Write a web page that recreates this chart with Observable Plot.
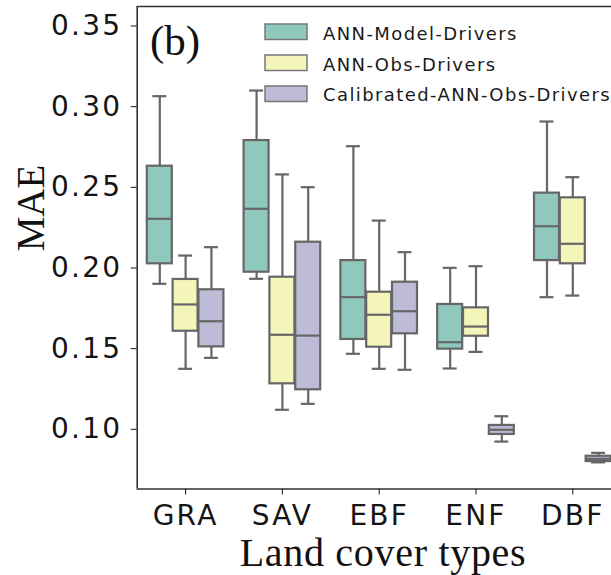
<!DOCTYPE html>
<html><head><meta charset="utf-8">
<script src="https://cdn.jsdelivr.net/npm/d3@7"></script>
<script src="https://cdn.jsdelivr.net/npm/@observablehq/plot@0.6"></script>
<style>
html,body{margin:0;padding:0;background:#fff;overflow:hidden;width:611px;height:575px;}
#wrap{position:relative;width:611px;height:575px;overflow:hidden;}
#chart svg{position:absolute;left:0;top:0;}
#chart svg text{letter-spacing:2.2px;}
#overlay{position:absolute;left:0;top:0;}
</style></head><body><div id="wrap"><div id="chart"></div><svg id="overlay" width="611" height="575"></svg></div>
<script>
const categories = ["GRA", "SAV", "EBF", "ENF", "DBF"];
const series = ["ANN-Model-Drivers", "ANN-Obs-Drivers", "Calibrated-ANN-Obs-Drivers"];
const colors = ["#8fc8bd", "#f3f5b9", "#bdbbd6"];
const yTicks = [0.10, 0.15, 0.20, 0.25, 0.30, 0.35];
// per series (rows), per category (columns)
const lowerWhisker = [
  [0.1902, 0.1933, 0.1468, 0.1377, 0.1819],
  [0.1375, 0.1121, 0.1375, 0.1480, 0.1829],
  [0.1443, 0.1158, 0.1369, 0.0924, 0.0795]
];
const q1 = [
  [0.2026, 0.1974, 0.1557, 0.1497, 0.2046],
  [0.1608, 0.1282, 0.1509, 0.1577, 0.2026],
  [0.1511, 0.1245, 0.1592, 0.0968, 0.0800]
];
const median = [
  [0.2305, 0.2367, 0.1819, 0.1540, 0.2259],
  [0.1774, 0.1586, 0.1710, 0.1637, 0.2150],
  [0.1670, 0.1581, 0.1732, 0.0997, 0.0817]
];
const q3 = [
  [0.2631, 0.2790, 0.2046, 0.1774, 0.2464],
  [0.1929, 0.1943, 0.1850, 0.1753, 0.2435],
  [0.1865, 0.2160, 0.1912, 0.1024, 0.0833]
];
const upperWhisker = [
  [0.3065, 0.3100, 0.2755, 0.2001, 0.2908],
  [0.2077, 0.2580, 0.2294, 0.2011, 0.2563],
  [0.2129, 0.2501, 0.2098, 0.1081, 0.0854]
];

const xDomain = [-0.5, 4.5];
const yDomain = [0.063, 0.3621];
const offset = 0.2667, half = 0.129, cap = 0.072;
const rows = [];
series.forEach((s, si) => {
  categories.forEach((c, ci) => {
    const pos = ci + (si - 1) * offset;
    rows.push({
      series: s, category: c, pos,
      boxL: pos - half, boxR: pos + half, capL: pos - cap, capR: pos + cap,
      low: lowerWhisker[si][ci], q1: q1[si][ci], med: median[si][ci],
      q3: q3[si][ci], high: upperWhisker[si][ci]
    });
  });
});

const gray = "#666666";
const sw = 2.2;
const chart = Plot.plot({
  width: 611, height: 575,
  marginLeft: 136.7, marginRight: 0, marginTop: 6, marginBottom: 86.5,
  style: {fontFamily: "DejaVu Sans", fontSize: "28px", color: "#151515", background: "transparent", overflow: "hidden"},
  x: {type: "linear", domain: xDomain, range: [136.7, 620.7], ticks: [0, 1, 2, 3, 4], tickFormat: i => categories[i],
      tickSize: 6, tickPadding: 10, label: null},
  y: {domain: yDomain, ticks: yTicks, tickFormat: d3.format(".2f"),
      tickSize: 6, tickPadding: 9, label: null},
  color: {domain: series, range: colors},
  marks: [
    Plot.ruleX(rows, {x: "pos", y1: "low", y2: "q1", stroke: gray, strokeWidth: sw}),
    Plot.ruleX(rows, {x: "pos", y1: "q3", y2: "high", stroke: gray, strokeWidth: sw}),
    Plot.ruleY(rows, {x1: "capL", x2: "capR", y: "low", stroke: gray, strokeWidth: sw}),
    Plot.ruleY(rows, {x1: "capL", x2: "capR", y: "high", stroke: gray, strokeWidth: sw}),
    Plot.rect(rows, {x1: "boxL", x2: "boxR", y1: "q1", y2: "q3", fill: "series", stroke: gray, strokeWidth: sw}),
    Plot.ruleY(rows, {x1: "boxL", x2: "boxR", y: "med", stroke: gray, strokeWidth: sw}),
    Plot.ruleX([xDomain[0]], {stroke: "#333", strokeWidth: 1.6}),
    Plot.ruleY([yDomain[0]], {x1: xDomain[0], x2: xDomain[1], stroke: "#333", strokeWidth: 1.6}),
    Plot.ruleY([yDomain[1]], {x1: xDomain[0], x2: xDomain[1], stroke: "#333", strokeWidth: 1.6})
  ]
});
document.getElementById("chart").appendChild(chart);

const ov = d3.select("#overlay");
const serif = "'Liberation Serif', 'Times New Roman', serif";
ov.append("text").attr("x", 150).attr("y", 55).attr("font-family", serif)
  .attr("font-size", 43).attr("fill", "#111").text("(b)");
ov.append("text").attr("transform", "translate(30,208) rotate(-90)")
  .attr("text-anchor", "middle").attr("dominant-baseline", "central")
  .attr("font-family", serif).attr("font-size", 39).attr("fill", "#111").text("MAE");
ov.append("text").attr("x", 383).attr("y", 566).attr("text-anchor", "middle")
  .attr("font-family", serif).attr("font-size", 40).attr("letter-spacing", "0.7px")
  .attr("fill", "#111").text("Land cover types");
const legendY = [24, 55, 86];
const legendBase = [40, 70.7, 101];
series.forEach((s, i) => {
  ov.append("rect").attr("x", 265).attr("y", legendY[i]).attr("width", 42).attr("height", 15.5)
    .attr("fill", colors[i]).attr("stroke", "#777").attr("stroke-width", 1.5);
  ov.append("text").attr("x", 323).attr("y", legendBase[i]).attr("font-family", "DejaVu Sans")
    .attr("font-size", 18).attr("letter-spacing", "1.4px").attr("fill", "#1a1a1a").text(s);
});
</script></body></html>
